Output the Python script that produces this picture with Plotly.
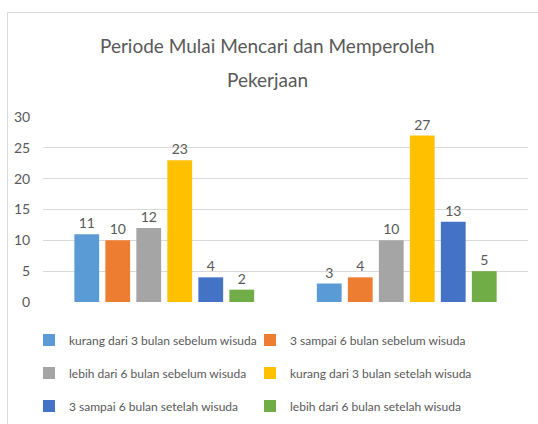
import plotly.graph_objects as go

title_lines = ["Periode Mulai Mencari dan Memperoleh", "Pekerjaan"]
categories = ["Kelompok 1", "Kelompok 2"]
series_names = [
    "kurang dari 3 bulan sebelum wisuda",
    "3 sampai 6 bulan sebelum wisuda",
    "lebih dari 6 bulan sebelum wisuda",
    "kurang dari 3 bulan setelah wisuda",
    "3 sampai 6 bulan setelah wisuda",
    "lebih dari 6 bulan setelah wisuda",
]
series_values = [
    [11, 3],
    [10, 4],
    [12, 10],
    [23, 27],
    [4, 13],
    [2, 5],
]
colors = ["#5B9BD5", "#ED7D31", "#A5A5A5", "#FFC000", "#4472C4", "#70AD47"]
y_ticks = [0, 5, 10, 15, 20, 25, 30]

FONT = "Lato, sans-serif"
GRAY = "#595959"

W, H = 538, 424
ML, MR, MT, MB = 43, 10, 117, 122
PW = W - ML - MR
PH = H - MT - MB

def px_x(p):
    return (p - ML) / PW

def px_y(p):
    return (H - MB - p) / PH

legend_ids = ["legend", "legend2", "legend3", "legend4", "legend5", "legend6"]
legend_px = [(29, 340), (250, 340), (29, 373), (250, 373), (29, 406), (250, 406)]

fig = go.Figure()
for name, vals, col, lg in zip(series_names, series_values, colors, legend_ids):
    fig.add_trace(go.Bar(
        x=categories, y=vals, name=name, marker_color=col,
        marker_line_width=0,
        text=vals, textposition="outside",
        textfont=dict(family=FONT, size=14, color=GRAY),
        cliponaxis=False, legend=lg,
    ))

legends = {}
for lg, (lx, ly) in zip(legend_ids, legend_px):
    legends[lg] = dict(orientation="v", xanchor="left", yanchor="middle",
                       x=px_x(lx), y=px_y(ly),
                       font=dict(family=FONT, size=12, color=GRAY),
                       bgcolor="rgba(0,0,0,0)")

title_ys = [46, 79]

fig.update_layout(
    width=W, height=H,
    margin=dict(l=ML, r=MR, t=MT, b=MB, autoexpand=False),
    paper_bgcolor="white", plot_bgcolor="white",
    barmode="group", bargap=0.233, bargroupgap=0.2,
    showlegend=True,
    **legends,
    xaxis=dict(showticklabels=False, showgrid=False, zeroline=False, showline=False),
    yaxis=dict(range=[0, 30], tickvals=y_ticks, showgrid=True, gridcolor="#D9D9D9",
               gridwidth=1, zeroline=False, showline=False,
               ticks="outside", ticklen=9, tickcolor="rgba(0,0,0,0)",
               tickfont=dict(family=FONT, size=14, color=GRAY)),
    annotations=[dict(
        text=t, xref="paper", yref="paper",
        x=px_x(267), y=px_y(yy), xanchor="center", yanchor="middle",
        showarrow=False, font=dict(family=FONT, size=19, color=GRAY),
    ) for t, yy in zip(title_lines, title_ys)],
    shapes=[dict(type="rect", xref="paper", yref="paper",
                 x0=px_x(7.5), x1=px_x(560), y0=px_y(460), y1=px_y(12.5),
                 line=dict(color="#D9D9D9", width=1), layer="below")],
)

fig.write_html("out.html", config={"displayModeBar": False},
               post_script="document.body.style.margin='0';document.body.style.overflow='hidden';")
